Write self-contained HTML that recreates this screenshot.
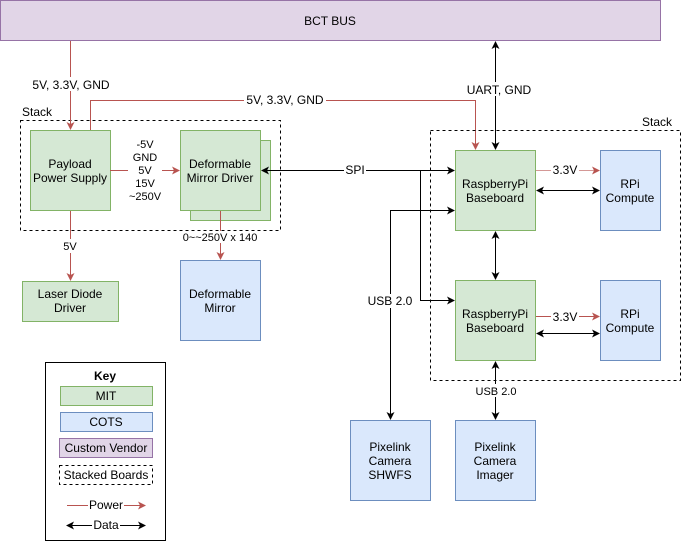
<!DOCTYPE html>
<html><head><meta charset="utf-8"><style>
html,body{margin:0;padding:0;background:#fff;}
svg{display:block;}
text{font-family:"Liberation Sans",Helvetica,Arial,sans-serif;font-size:12px;fill:#000;}
</style></head><body>
<svg width="691" height="551" viewBox="0 0 691 551" xmlns="http://www.w3.org/2000/svg">
<defs>
<marker id="r" markerWidth="8" markerHeight="8" refX="7" refY="4" orient="auto" markerUnits="userSpaceOnUse"><path d="M0,0 L8,4 L0,8 L2,4 z" fill="#b85450"/></marker>
<marker id="b" markerWidth="8" markerHeight="8" refX="7" refY="4" orient="auto" markerUnits="userSpaceOnUse"><path d="M0,0 L8,4 L0,8 L2,4 z" fill="#000"/></marker>
<marker id="bs" markerWidth="8" markerHeight="8" refX="1" refY="4" orient="auto" markerUnits="userSpaceOnUse"><path d="M8,0 L0,4 L8,8 L6,4 z" fill="#000"/></marker>
</defs>
<rect x="0.5" y="0.5" width="660" height="40" fill="#e1d5e7" stroke="#9673a6"/>
<text x="330" y="25" text-anchor="middle">BCT BUS</text>

<!-- left stack -->
<rect x="20.5" y="120.5" width="260" height="110" fill="none" stroke="#000" stroke-dasharray="3,3"/>
<text x="22" y="116">Stack</text>
<rect x="30.5" y="130.5" width="80" height="80" fill="#d5e8d4" stroke="#82b366"/>
<text x="70" y="168" text-anchor="middle">Payload</text>
<text x="70" y="182" text-anchor="middle">Power Supply</text>
<rect x="190.5" y="140.5" width="80" height="80" fill="#d5e8d4" stroke="#82b366"/>
<rect x="180.5" y="130.5" width="80" height="80" fill="#d5e8d4" stroke="#82b366"/>
<text x="220" y="168" text-anchor="middle">Deformable</text>
<text x="220" y="182" text-anchor="middle">Mirror Driver</text>
<rect x="22.5" y="281.5" width="96" height="40" fill="#d5e8d4" stroke="#82b366"/>
<text x="70" y="298" text-anchor="middle">Laser Diode</text>
<text x="70" y="312" text-anchor="middle">Driver</text>
<rect x="180.5" y="260.5" width="80" height="80" fill="#dae8fc" stroke="#6c8ebf"/>
<text x="220" y="298" text-anchor="middle">Deformable</text>
<text x="220" y="312" text-anchor="middle">Mirror</text>

<!-- power lines -->
<line x1="70.5" y1="41" x2="70.5" y2="129" stroke="#b85450" marker-end="url(#r)"/>
<rect x="30" y="77" width="82" height="14" fill="#fff"/>
<text x="71" y="89" text-anchor="middle">5V, 3.3V, GND</text>
<path d="M90.5,130 V100.5 H475.5 V149" fill="none" stroke="#b85450" marker-end="url(#r)"/>
<rect x="244" y="93" width="82" height="14" fill="#fff"/>
<text x="285" y="104" text-anchor="middle">5V, 3.3V, GND</text>
<line x1="110" y1="170.5" x2="179" y2="170.5" stroke="#b85450" marker-end="url(#r)"/>
<rect x="128" y="137" width="34" height="66" fill="#fff"/>
<g font-size="11"><text x="145" y="148" text-anchor="middle" style="font-size:11px">-5V</text>
<text x="145" y="161" text-anchor="middle" style="font-size:11px">GND</text>
<text x="145" y="174" text-anchor="middle" style="font-size:11px">5V</text>
<text x="145" y="187" text-anchor="middle" style="font-size:11px">15V</text>
<text x="145" y="200" text-anchor="middle" style="font-size:11px">~250V</text></g>
<line x1="70.5" y1="211" x2="70.5" y2="280" stroke="#b85450" marker-end="url(#r)"/>
<rect x="62" y="239" width="16" height="14" fill="#fff"/>
<text x="70" y="250" text-anchor="middle" style="font-size:11px">5V</text>
<line x1="220.5" y1="211" x2="220.5" y2="259" stroke="#b85450" marker-end="url(#r)"/>
<rect x="184" y="231" width="72" height="12" fill="#fff"/>
<text x="220" y="241" text-anchor="middle" style="font-size:11px">0~~250V x 140</text>

<!-- right stack -->
<rect x="430.5" y="130.5" width="250" height="250" fill="none" stroke="#000" stroke-dasharray="3,3"/>
<text x="672" y="126" text-anchor="end">Stack</text>
<rect x="455.5" y="150.5" width="80" height="80" fill="#d5e8d4" stroke="#82b366"/>
<text x="495" y="188" text-anchor="middle">RaspberryPi</text>
<text x="495" y="202" text-anchor="middle">Baseboard</text>
<rect x="600.5" y="150.5" width="60" height="80" fill="#dae8fc" stroke="#6c8ebf"/>
<text x="630" y="188" text-anchor="middle">RPi</text>
<text x="630" y="202" text-anchor="middle">Compute</text>
<rect x="455.5" y="280.5" width="80" height="80" fill="#d5e8d4" stroke="#82b366"/>
<text x="495" y="318" text-anchor="middle">RaspberryPi</text>
<text x="495" y="332" text-anchor="middle">Baseboard</text>
<rect x="600.5" y="280.5" width="60" height="80" fill="#dae8fc" stroke="#6c8ebf"/>
<text x="630" y="318" text-anchor="middle">RPi</text>
<text x="630" y="332" text-anchor="middle">Compute</text>

<line x1="536" y1="170.5" x2="599" y2="170.5" stroke="#b85450" stroke-opacity="0.6" marker-end="url(#r)"/>
<rect x="551" y="163" width="28" height="14" fill="#fff"/>
<text x="565" y="174" text-anchor="middle">3.3V</text>
<line x1="536" y1="316.5" x2="599" y2="316.5" stroke="#b85450" marker-end="url(#r)"/>
<rect x="551" y="309" width="28" height="14" fill="#fff"/>
<text x="565" y="321" text-anchor="middle">3.3V</text>
<line x1="537" y1="190.5" x2="599" y2="190.5" stroke="#000" marker-start="url(#bs)" marker-end="url(#b)"/>
<line x1="537" y1="333.5" x2="599" y2="333.5" stroke="#000" marker-start="url(#bs)" marker-end="url(#b)"/>
<line x1="495.5" y1="232" x2="495.5" y2="279" stroke="#000" marker-start="url(#bs)" marker-end="url(#b)"/>

<!-- UART -->
<line x1="495.5" y1="42" x2="495.5" y2="149" stroke="#000" marker-start="url(#bs)" marker-end="url(#b)"/>
<rect x="465" y="82" width="66" height="14" fill="#fff"/>
<text x="499" y="94" text-anchor="middle">UART, GND</text>

<!-- SPI -->
<line x1="262" y1="170.5" x2="454" y2="170.5" stroke="#000" marker-start="url(#bs)" marker-end="url(#b)"/>
<path d="M420.5,170.5 V300.5 H454" fill="none" stroke="#000" marker-end="url(#b)"/>
<rect x="344" y="163" width="22" height="14" fill="#fff"/>
<text x="355" y="174" text-anchor="middle">SPI</text>

<!-- USB -->
<path d="M454,210.5 H390.5 V419" fill="none" stroke="#000" marker-start="url(#bs)" marker-end="url(#b)"/>
<rect x="366" y="294" width="48" height="14" fill="#fff"/>
<text x="390" y="305" text-anchor="middle">USB 2.0</text>
<line x1="495.5" y1="362" x2="495.5" y2="419" stroke="#000" marker-start="url(#bs)" marker-end="url(#b)"/>
<rect x="473" y="384" width="46" height="13" fill="#fff"/>
<text x="496" y="395" text-anchor="middle" style="font-size:11px">USB 2.0</text>

<rect x="350.5" y="420.5" width="80" height="80" fill="#dae8fc" stroke="#6c8ebf"/>
<text x="390" y="451" text-anchor="middle">Pixelink</text>
<text x="390" y="465" text-anchor="middle">Camera</text>
<text x="390" y="479" text-anchor="middle">SHWFS</text>
<rect x="455.5" y="420.5" width="80" height="80" fill="#dae8fc" stroke="#6c8ebf"/>
<text x="495" y="451" text-anchor="middle">Pixelink</text>
<text x="495" y="465" text-anchor="middle">Camera</text>
<text x="495" y="479" text-anchor="middle">Imager</text>

<!-- key -->
<rect x="45.5" y="362.5" width="120" height="178" fill="#fff" stroke="#000"/>
<text x="105" y="380" text-anchor="middle" font-weight="bold" style="font-weight:bold">Key</text>
<rect x="60.5" y="386.5" width="92" height="19" fill="#d5e8d4" stroke="#82b366"/>
<text x="106" y="400" text-anchor="middle">MIT</text>
<rect x="60.5" y="412.5" width="92" height="19" fill="#dae8fc" stroke="#6c8ebf"/>
<text x="106" y="426" text-anchor="middle">COTS</text>
<rect x="59.5" y="438.5" width="93" height="19" fill="#e1d5e7" stroke="#9673a6"/>
<text x="106" y="452" text-anchor="middle">Custom Vendor</text>
<rect x="59.5" y="465.5" width="93" height="19" fill="none" stroke="#000" stroke-dasharray="3,3"/>
<text x="106" y="479" text-anchor="middle">Stacked Boards</text>
<line x1="67" y1="505.5" x2="145" y2="505.5" stroke="#b85450" marker-end="url(#r)"/>
<rect x="88" y="498" width="36" height="14" fill="#fff"/>
<text x="106" y="509" text-anchor="middle">Power</text>
<line x1="67" y1="525.5" x2="145" y2="525.5" stroke="#000" marker-start="url(#bs)" marker-end="url(#b)"/>
<rect x="92" y="518" width="28" height="14" fill="#fff"/>
<text x="106" y="529" text-anchor="middle">Data</text>
</svg>
</body></html>
